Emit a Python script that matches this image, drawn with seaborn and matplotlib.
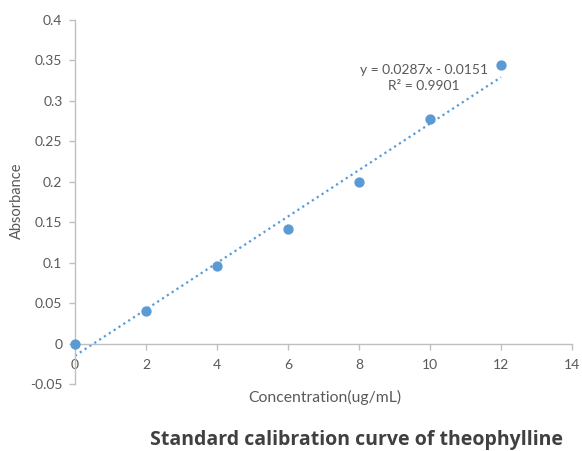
import numpy as np
import pandas as pd
import seaborn as sns
import matplotlib
matplotlib.use("Agg")
import matplotlib.pyplot as plt

# Calibration data for theophylline
concentration = [0, 2, 4, 6, 8, 10, 12]
absorbance = [0.0, 0.040, 0.096, 0.142, 0.200, 0.277, 0.344]

# Linear trendline coefficients as reported
slope = 0.0287
intercept = -0.0151
r_squared = 0.9901

x_ticks = [0, 2, 4, 6, 8, 10, 12, 14]
y_ticks = [-0.05, 0, 0.05, 0.1, 0.15, 0.2, 0.25, 0.3, 0.35, 0.4]
y_tick_labels = ["-0.05", "0", "0.05", "0.1", "0.15", "0.2", "0.25", "0.3", "0.35", "0.4"]

title = "Standard calibration curve of theophylline"
x_label = "Concentration(ug/mL)"
y_label = "Absorbance"

sns.set_theme(style="white")
plt.rcParams["font.family"] = ["Lato", "DejaVu Sans"]

blue = "#5b9bd5"
grey_text = "#595959"
axis_grey = "#bfbfbf"

df = pd.DataFrame({"conc": concentration, "abs": absorbance})

fig = plt.figure(figsize=(5.82, 4.51), dpi=100)
ax = fig.add_axes([75 / 582, 1 - 384 / 451, (572 - 75) / 582, (384 - 20) / 451])

# Trendline over the data range
trend_x = np.array([concentration[0], concentration[-1]])
trend_y = slope * trend_x + intercept
ax.plot(trend_x, trend_y, linestyle=(0, (1, 1.6)), color=blue, linewidth=1.6, zorder=2)

sns.scatterplot(data=df, x="conc", y="abs", ax=ax, color=blue, s=55,
                edgecolor=blue, linewidth=0, zorder=3, clip_on=False)

ax.set_xlim(0, 14)
ax.set_ylim(-0.05, 0.4)
ax.set_xticks(x_ticks)
ax.set_xticklabels([str(t) for t in x_ticks])
ax.set_yticks(y_ticks)
ax.set_yticklabels(y_tick_labels)

for side in ["top", "right"]:
    ax.spines[side].set_visible(False)
ax.spines["bottom"].set_position(("data", 0))
for side in ["left", "bottom"]:
    ax.spines[side].set_color(axis_grey)
    ax.spines[side].set_linewidth(1.0)

ax.tick_params(axis="both", which="major", direction="out", length=4, width=1,
               color=axis_grey, labelcolor=grey_text, labelsize=10)
ax.tick_params(axis="x", pad=7, bottom=True)
ax.tick_params(axis="y", pad=5, left=True)

ax.set_xlabel("")
ax.set_ylabel("")

fig.text(324.5 / 582, 1 - 397 / 451, x_label, ha="center", va="center",
         fontsize=11.3, color=grey_text)
fig.text(17 / 582, 1 - 201 / 451, y_label, ha="center", va="center",
         rotation=90, fontsize=10.5, color=grey_text)

fig.text(424 / 582, 1 - 70 / 451, f"y = {slope}x - {abs(intercept)}",
         ha="center", va="center", fontsize=10, color=grey_text)
fig.text(424 / 582, 1 - 86 / 451, f"R² = {r_squared}",
         ha="center", va="center", fontsize=10, color=grey_text)

fig.text(357 / 582, 1 - 440 / 451, title, ha="center", va="center",
         fontsize=14, fontweight="bold", color="#404040",
         family=["Open Sans", "DejaVu Sans"])

fig.savefig("out.png", dpi=100)
